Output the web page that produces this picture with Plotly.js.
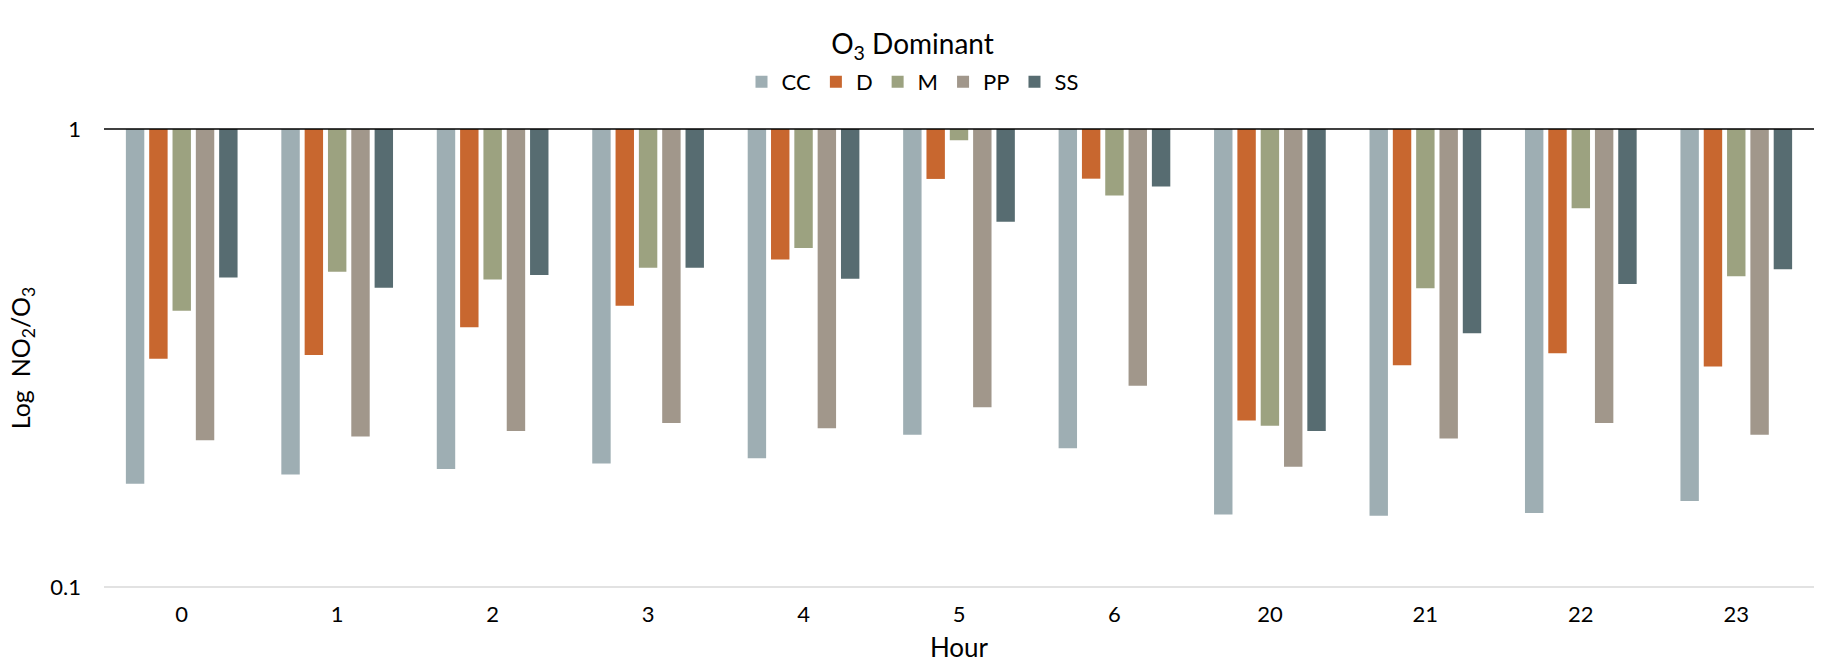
<!DOCTYPE html>
<html>
<head>
<meta charset="utf-8">
<script src="https://cdn.plot.ly/plotly-3.0.1.min.js"></script>
<style>html,body{margin:0;padding:0;background:#fff;}#chart{width:1825px;height:664px;}</style>
</head>
<body>
<div id="chart"></div>
<script>
const hours = ['0','1','2','3','4','5','6','20','21','22','23'];
const seriesNames = ['CC','D','M','PP','SS'];
const CC = [0.168,0.176,0.181,0.186,0.191,0.215,0.201,0.144,0.143,0.145,0.154];
const D  = [0.315,0.321,0.369,0.411,0.519,0.778,0.779,0.231,0.305,0.324,0.303];
const M  = [0.401,0.488,0.469,0.498,0.550,0.945,0.716,0.225,0.449,0.671,0.477];
const PP = [0.209,0.213,0.219,0.228,0.222,0.247,0.275,0.183,0.211,0.228,0.215];
const SS = [0.474,0.450,0.480,0.498,0.471,0.627,0.749,0.219,0.358,0.459,0.494];
const yTickVals = [0.1, 1];
const yTickText = ['0.1', '1'];

const seriesValues = [CC, D, M, PP, SS];
const colors = ['#9EAEB3','#C8672F','#9CA280','#A1978B','#576C71'];
const FONT = 'Lato, "Open Sans", sans-serif';
const BASE = 1;

const traces = seriesNames.map((name, i) => ({
  type: 'bar',
  name: name,
  x: hours,
  base: BASE,
  y: seriesValues[i].map(v => v - BASE),
  customdata: seriesValues[i],
  hovertemplate: name + ' %{x}: %{customdata}<extra></extra>',
  marker: {color: colors[i], line: {width: 0}}
}));

const layout = {
  width: 1825, height: 664,
  paper_bgcolor: '#fff', plot_bgcolor: '#fff',
  font: {family: FONT, color: '#000', size: 22},
  margin: {l: 104, r: 11, t: 129, b: 77},
  barmode: 'group',
  bargap: 0.25,
  bargroupgap: 0.21,
  title: {
    text: 'O<sub>3</sub> Dominant',
    font: {family: FONT, size: 28, color: '#000'},
    x: 0.5, xref: 'container', xanchor: 'center',
    y: 1 - 44/664, yref: 'container', yanchor: 'middle'
  },
  legend: {
    orientation: 'h',
    x: 0.5, xref: 'container', xanchor: 'center',
    y: 1 - 82/664, yref: 'container', yanchor: 'middle',
    font: {family: FONT, size: 22, color: '#000'},
    itemwidth: 30,
    traceorder: 'normal'
  },
  xaxis: {
    type: 'category',
    showgrid: false,
    showline: false,
    zeroline: false,
    ticks: '',
    tickfont: {family: FONT, size: 22, color: '#000'},
    ticklabelstandoff: 12,
    title: {text: 'Hour', font: {family: FONT, size: 26, color: '#000'}, standoff: 12}
  },
  yaxis: {
    type: 'log',
    range: [-1, 0],
    tickvals: yTickVals,
    ticktext: yTickText,
    showgrid: true,
    gridcolor: '#D9D9D9',
    gridwidth: 1.5,
    zeroline: false,
    showline: false,
    ticks: '',
    ticklabelstandoff: 22,
    tickfont: {family: FONT, size: 22, color: '#000'},
    title: {text: 'Log&nbsp; NO<sub>2</sub>/O<sub>3</sub>', font: {family: FONT, size: 25, color: '#000'}, standoff: 12}
  },
  shapes: [{
    type: 'line', xref: 'paper', yref: 'paper',
    x0: 0, x1: 1, y0: 0, y1: 0,
    line: {color: '#D9D9D9', width: 1.5},
    layer: 'below'
  }, {
    type: 'line', xref: 'paper', yref: 'paper',
    x0: 0, x1: 1, y0: 1, y1: 1,
    line: {color: '#000', width: 1.5},
    layer: 'above'
  }]
};

Plotly.newPlot('chart', traces, layout, {displayModeBar: false, staticPlot: true});
</script>
</body>
</html>
